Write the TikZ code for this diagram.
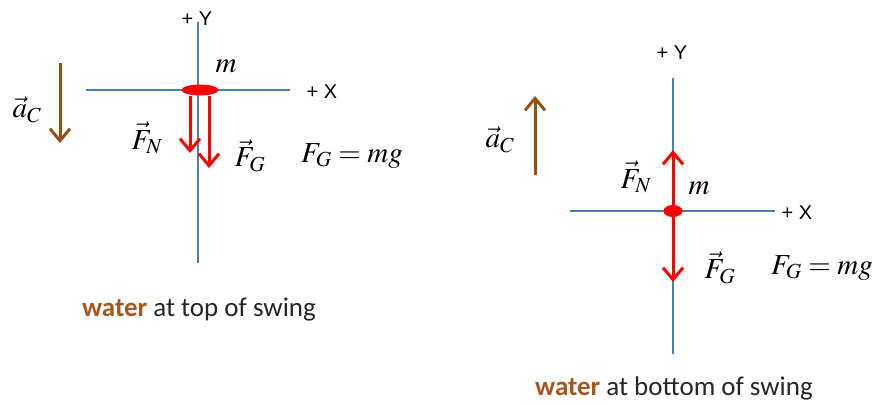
\documentclass[tikz,border=0pt]{standalone}
\usepackage{mathptmx}
\usepackage[no-math]{fontspec}
\setmainfont{Liberation Serif}
\newfontfamily\arialf{Liberation Sans}
\newfontfamily\calib{Carlito}
\usetikzlibrary{arrows.meta,shapes.geometric}
\definecolor{axisblue}{RGB}{74,126,187}
\definecolor{brownc}{RGB}{150,80,20}
\definecolor{waterc}{RGB}{166,86,30}
\definecolor{captext}{RGB}{38,38,38}
\tikzset{
 axisline/.style={axisblue, line width=1.8pt},
 force/.style={red, line width=3pt, -{Straight Barb[length=12pt,width=20pt]}},
 accel/.style={brownc, line width=3pt, -{Straight Barb[length=12pt,width=20pt]}},
 lbl/.style={font=\fontsize{20}{24}\arialf, inner sep=0},
 mth/.style={font=\fontsize{29}{34}\selectfont, inner sep=0},
 captxt/.style={font=\fontsize{27}{32}\calib, inner sep=0, text=captext},
 dot/.style={fill=red, ellipse, inner sep=0},
}
\begin{document}
\begin{tikzpicture}[x=1pt,y=-1pt]
\path[use as bounding box] (0,0) rectangle (880,404);
% ---------- left: top of swing ----------
\coordinate (LYt) at (198,22); \coordinate (LYb) at (198,263);
\coordinate (LXl) at (86,90); \coordinate (LXr) at (290,90);
\draw[axisline] (LYt) -- (LYb);
\draw[axisline] (LXl) -- (LXr);
\node[dot, minimum width=37pt, minimum height=11pt] (Lm) at (200,90) {};
\coordinate (LFNe) at (190,153);
\coordinate (LFGe) at (209,168);
\draw[force] (LFNe |- Lm.south) -- (LFNe);
\draw[force] (LFGe |- Lm.south) -- (LFGe);
\node[lbl] (LY) at (197,19) {+ Y};
\node[lbl] (LX) at (322,92) {+ X};
\node[mth] (Lmm) at (226,66) {$m$};
\node[mth] (LFN) at (147,138) {$\vec F_N$};
\node[mth] (LFG) at (250,156) {$\vec F_G$};
\node[mth] (LFeq) at (352,156) {$F_G = mg$};
\node[mth] (LaC) at (27,110) {$\vec a_C$};
\coordinate (Las) at (60,63); \coordinate (Lae) at (60,143);
\draw[accel] (Las) -- (Lae);
\node[captxt] (Lcap) at (199,310) {\textcolor{waterc}{\bfseries water} at top of swing};
% ---------- right: bottom of swing ----------
\coordinate (RYt) at (673,78); \coordinate (RYb) at (673,354);
\coordinate (RXl) at (570,211); \coordinate (RXr) at (775,211);
\draw[axisline] (RYt) -- (RYb);
\draw[axisline] (RXl) -- (RXr);
\node[dot, minimum width=19pt, minimum height=12pt] (Rm) at (673,211) {};
\coordinate (RFNe) at (673,150);
\coordinate (RFGe) at (673,282);
\draw[force] (Rm.north) -- (RFNe);
\draw[force] (Rm.south) -- (RFGe);
\node[lbl] (RY) at (672,53) {+ Y};
\node[lbl] (RX) at (797,213) {+ X};
\node[mth] (RFN) at (636,177) {$\vec F_N$};
\node[mth] (Rmm) at (699,188) {$m$};
\node[mth] (RFG) at (720,268) {$\vec F_G$};
\node[mth] (RFeq) at (822,268) {$F_G = mg$};
\node[mth] (RaC) at (500,140) {$\vec a_C$};
\coordinate (Ras) at (535,175); \coordinate (Rae) at (535,96);
\draw[accel] (Ras) -- (Rae);
\node[captxt] (Rcap) at (674,388) {\textcolor{waterc}{\bfseries water} at bottom of swing};
\end{tikzpicture}
\end{document}
